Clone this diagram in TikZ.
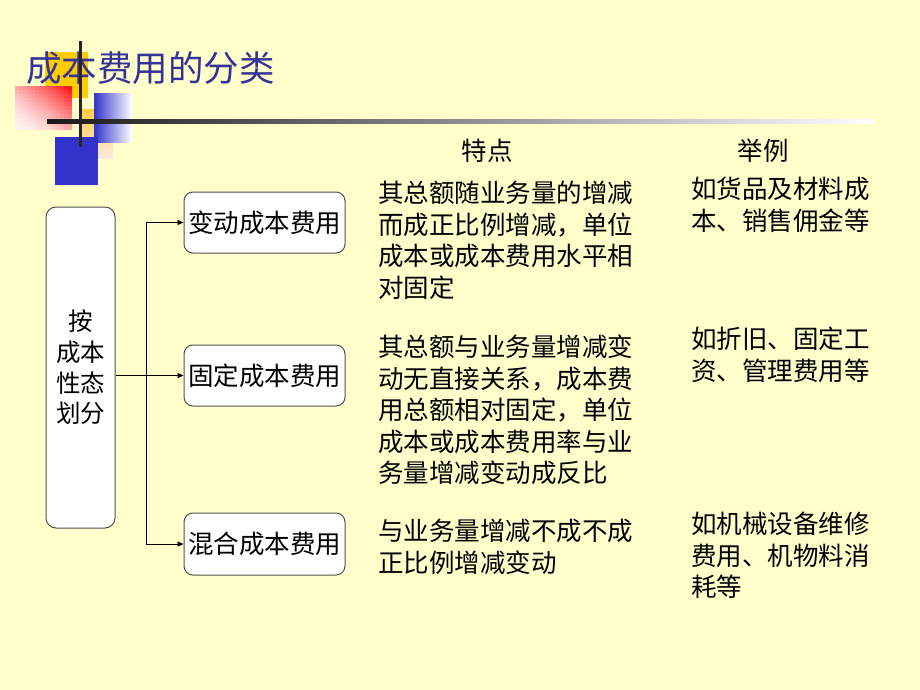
\documentclass[tikz,border=0pt]{standalone}
\usepackage{fontspec}
\setmainfont{Noto Sans CJK SC}
\usetikzlibrary{arrows.meta}
\definecolor{bg}{RGB}{255,255,204}
\definecolor{titleblue}{RGB}{51,51,153}
\definecolor{sqyellow}{RGB}{255,204,0}
\definecolor{sqblue}{RGB}{51,51,204}
\definecolor{sqred}{RGB}{255,20,20}
\definecolor{sqpink}{RGB}{255,242,242}
\definecolor{sqorange}{RGB}{255,205,70}
\definecolor{sqorangelt}{RGB}{255,232,225}
\definecolor{boxline}{RGB}{80,80,80}
\tikzset{
  catbox/.style={draw=boxline, line width=1pt, fill=white, rounded corners=9pt, inner sep=2pt, font=\fontsize{25.5}{30}\selectfont},
  bodytext/.style={inner sep=0pt, align=left, anchor=north west, font=\fontsize{25.5}{31.5}\selectfont},
  headtext/.style={inner sep=0pt, anchor=north, font=\fontsize{25.5}{31.5}\selectfont},
  conn/.style={draw=black, line width=0.8pt, -{Triangle[length=6pt,width=5pt]}},
}
\begin{document}
\begin{tikzpicture}[x=1pt,y=-1pt]
\useasboundingbox (0,0) rectangle (920,690);
\fill[bg] (0,0) rectangle (920,690);
% decoration
\fill[sqyellow] (45,52) rectangle (88,98);
\foreach \i in {0,...,13} {
  \foreach \j in {0,...,10} {
    \pgfmathsetmacro\mixt{100*((\i/13 + 1 - \j/10)/2)^1.6}
    \fill[sqred!\mixt!sqpink] ({15+\i*57/14},{86+\j*4}) rectangle ++(4.4,4.2);
  }
}
\shade[top color=sqorange, bottom color=sqorangelt] (82,110) rectangle (113,158);
\shade[left color=sqblue, right color=white] (94,94) rectangle (132,142);
\fill[sqblue] (55,137) rectangle (98,185);
% title
\node[inner sep=0pt, anchor=north west, text=titleblue, font=\fontsize{35.5}{40}\selectfont] (title) at (26,51) {成本费用的分类};
% lines
\fill[black!85] (79.3,40.7) rectangle (82,147);
\shade[left color=black!90, right color=white] (47,120) rectangle (874,124);
% main boxes
\node[draw=boxline, line width=1pt, fill=white, rounded corners=10pt, minimum width=69pt, minimum height=321pt, inner sep=0pt, align=center, font=\fontsize{24.5}{30.7}\selectfont] (left) at (80.5,367.5) {按\\成本\\性态\\划分};
\node[catbox, minimum width=161pt, minimum height=61pt] (b1) at (264.5,222.5) {变动成本费用};
\node[catbox, minimum width=161pt, minimum height=61pt] (b2) at (264.5,375.5) {固定成本费用};
\node[catbox, minimum width=161pt, minimum height=62pt] (b3) at (264.5,544) {混合成本费用};
% connectors
\coordinate (j) at (146,376);
\draw[conn] (left.east |- b2.west) -- (b2.west);
\draw[line width=0.8pt] (j |- b1.west) -- (j |- b3.west);
\draw[conn] (j |- b1.west) -- (b1.west);
\draw[conn] (j |- b3.west) -- (b3.west);
% headers
\node[headtext] (h1) at (487,139) {特点};
\node[headtext] (h2) at (763,139) {举例};
% features
\node[bodytext] (f1) at (378,181) {其总额随业务量的增减\\而成正比例增减，单位\\成本或成本费用水平相\\对固定};
\node[bodytext] (f2) at (378,335) {其总额与业务量增减变\\动无直接关系，成本费\\用总额相对固定，单位\\成本或成本费用率与业\\务量增减变动成反比};
\node[bodytext] (f3) at (378,519) {与业务量增减不成不成\\正比例增减变动};
% examples
\node[bodytext] (e1) at (691,177) {如货品及材料成\\本、销售佣金等};
\node[bodytext] (e2) at (691,327) {如折旧、固定工\\资、管理费用等};
\node[bodytext] (e3) at (691,512) {如机械设备维修\\费用、机物料消\\耗等};
\end{tikzpicture}
\end{document}
